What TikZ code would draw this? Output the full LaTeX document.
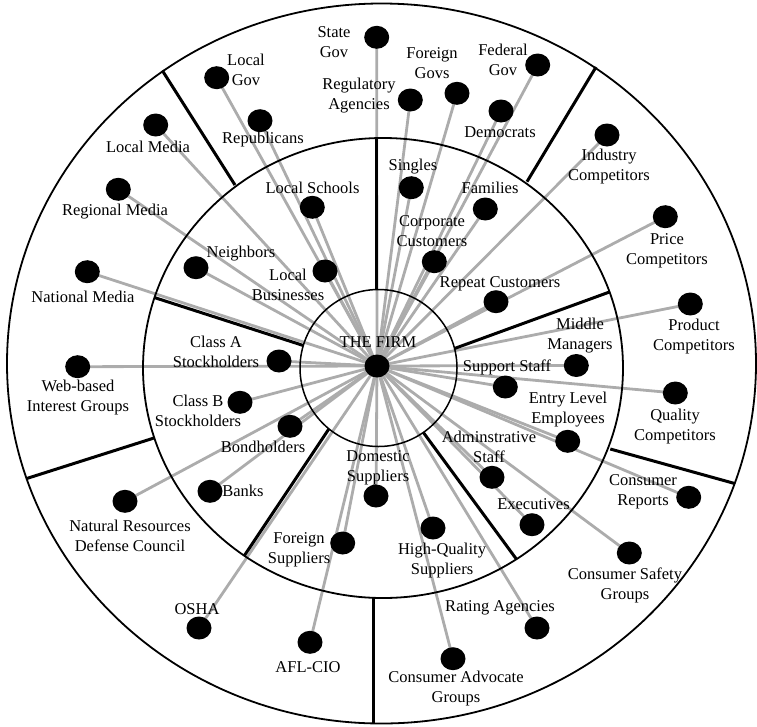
\documentclass[tikz,border=0pt]{standalone}
\usepackage{fontspec}
\setmainfont{Liberation Serif}
\usetikzlibrary{shapes.geometric}
\pgfdeclarelayer{background}
\pgfsetlayers{background,main}
\definecolor{linkgray}{RGB}{172,172,172}
\tikzset{
  dot/.style={ellipse, fill=black, draw=none, minimum width=25pt, minimum height=23pt, inner sep=0pt},
  lbl/.style={align=center, inner sep=0pt, font=\fontsize{16.5}{20}\selectfont},
  link/.style={draw=linkgray, line width=2.8pt},
  ring/.style={draw=black, line width=1.8pt},
  divider/.style={draw=black, line width=3pt},
}
\begin{document}
\begin{tikzpicture}[x=1pt,y=-1pt]
\useasboundingbox (0,0) rectangle (757,726);

% rings
\draw[ring] (381.5,363.5) ellipse [x radius=374.5pt, y radius=360pt];
\draw[ring] (383,368) ellipse [x radius=240pt, y radius=230pt];
\draw[ring, line width=1.5pt] (378.5,368) circle [radius=78.5pt];

% sector dividers, outer ring
\draw[divider] (235,185) -- (162.3,70.5);
\draw[divider] (527,181.7) -- (596,67);
\draw[divider] (610.3,449) -- (735,483.6);
\draw[divider] (373,597.8) -- (373,723.4);
\draw[divider] (154,438) -- (26.4,478.6);
% sector dividers, middle ring
\draw[divider] (376.5,289.5) -- (376.5,138);
\draw[divider] (454.5,348.5) -- (610,291.8);
\draw[divider] (423.3,432.4) -- (516.3,559);
\draw[divider] (328.9,428.9) -- (244.3,555.7);
\draw[divider] (303.3,345.5) -- (154.3,297.5);

% centre
\node[dot] (firm) at (377,366) {};
\node[lbl] (firmL) at (378,342.5) {THE FIRM};

% stakeholders: dots
\node[dot] (stategov) at (376.7,37.3) {};
\node[dot] (localgov) at (216.7,77.7) {};
\node[dot] (localmedia) at (155.7,125) {};
\node[dot] (republicans) at (260,120.7) {};
\node[dot] (regionalmedia) at (118.3,189.3) {};
\node[dot] (localschools) at (312.3,207.3) {};
\node[dot] (neighbors) at (196,267.7) {};
\node[dot] (localbiz) at (325,271) {};
\node[dot] (nationalmedia) at (87.3,271.7) {};
\node[dot] (classa) at (279,361) {};
\node[dot] (webbased) at (77.7,366.7) {};
\node[dot] (foreigngovs) at (457,93.3) {};
\node[dot] (federalgov) at (537.7,65) {};
\node[dot] (regulatory) at (410.3,100) {};
\node[dot] (democrats) at (501,111) {};
\node[dot] (singles) at (411.3,187.7) {};
\node[dot] (families) at (485.3,209) {};
\node[dot] (corporate) at (434.3,261.7) {};
\node[dot] (industry) at (607,135) {};
\node[dot] (price) at (665.3,216.7) {};
\node[dot] (repeat) at (496,301.7) {};
\node[dot] (product) at (690.3,304) {};
\node[dot] (middle) at (576.3,365.5) {};
\node[dot] (support) at (505.3,387) {};
\node[dot] (quality) at (675.3,393) {};
\node[dot] (entry) at (567.7,441.3) {};
\node[dot] (admin) at (492,477.3) {};
\node[dot] (executives) at (532,524.7) {};
\node[dot] (consreports) at (688.7,497.3) {};
\node[dot] (conssafety) at (629.3,553) {};
\node[dot] (hqsup) at (433,528) {};
\node[dot] (rating) at (537,628) {};
\node[dot] (consadv) at (453,658.7) {};
\node[dot] (classb) at (240,402.3) {};
\node[dot] (bond) at (290,426.3) {};
\node[dot] (banks) at (210,491.3) {};
\node[dot] (nrdc) at (125,501.3) {};
\node[dot] (foreignsup) at (342.7,543) {};
\node[dot] (osha) at (199,628) {};
\node[dot] (aflcio) at (310,642.3) {};
\node[dot] (domestic) at (376,496) {};

% stakeholders: labels
\node[lbl] (stategovL) at (334,42.5) {State\\Gov};
\node[lbl] (localgovL) at (246,70) {Local\\Gov};
\node[lbl] (localmediaL) at (148,146.5) {Local Media};
\node[lbl] (republicansL) at (263,140) {Republicans};
\node[lbl] (regionalmediaL) at (115,211.5) {Regional Media};
\node[lbl] (localschoolsL) at (312.5,187.5) {Local Schools};
\node[lbl] (neighborsL) at (241,254) {Neighbors};
\node[lbl] (localbizL) at (288,285) {Local\\Businesses};
\node[lbl] (nationalmediaL) at (83,296.5) {National Media};
\node[lbl] (classaL) at (216,351.5) {Class A\\Stockholders};
\node[lbl] (webbasedL) at (78,398) {Web-based\\Interest Groups};
\node[lbl] (foreigngovsL) at (432,63.5) {Foreign\\Govs};
\node[lbl] (federalgovL) at (503,60) {Federal\\Gov};
\node[lbl] (regulatoryL) at (359,96) {Regulatory\\Agencies};
\node[lbl] (democratsL) at (500,132.5) {Democrats};
\node[lbl] (singlesL) at (413,166.5) {Singles};
\node[lbl] (familiesL) at (490,187.5) {Families};
\node[lbl] (corporateL) at (432,231) {Corporate\\Customers};
\node[lbl] (industryL) at (609,167) {Industry\\Competitors};
\node[lbl] (priceL) at (667,250.5) {Price\\Competitors};
\node[lbl] (repeatL) at (500,283.5) {Repeat Customers};
\node[lbl] (productL) at (694,336.5) {Product\\Competitors};
\node[lbl] (middleL) at (580,336) {Middle\\Managers};
\node[lbl] (supportL) at (507,367) {Support Staff};
\node[lbl] (qualityL) at (675,427) {Quality\\Competitors};
\node[lbl] (entryL) at (568,410) {Entry Level\\Employees};
\node[lbl] (adminL) at (489,447) {Adminstrative\\Staff};
\node[lbl] (executivesL) at (533.5,504.5) {Executives};
\node[lbl] (consreportsL) at (643,492) {Consumer\\Reports};
\node[lbl] (conssafetyL) at (625,585) {Consumer Safety\\Groups};
\node[lbl] (hqsupL) at (442,560.5) {High-Quality\\Suppliers};
\node[lbl] (ratingL) at (500,608) {Rating Agencies};
\node[lbl] (consadvL) at (456,688.5) {Consumer Advocate\\Groups};
\node[lbl] (classbL) at (198,411) {Class B\\Stockholders};
\node[lbl] (bondL) at (263,447) {Bondholders};
\node[lbl] (banksL) at (243,491) {Banks};
\node[lbl] (nrdcL) at (130,536) {Natural Resources\\Defense Council};
\node[lbl] (foreignsupL) at (299,549.5) {Foreign\\Suppliers};
\node[lbl] (oshaL) at (197,609) {OSHA};
\node[lbl] (aflcioL) at (308,667) {AFL-CIO};
\node[lbl] (domesticL) at (378,468) {Domestic\\Suppliers};

% links from the firm to every stakeholder
\begin{pgfonlayer}{background}
\foreach \s in {stategov,localgov,localmedia,republicans,regionalmedia,localschools,
  neighbors,localbiz,nationalmedia,classa,webbased,foreigngovs,federalgov,regulatory,
  democrats,singles,families,corporate,industry,price,repeat,product,middle,support,
  quality,entry,admin,executives,consreports,conssafety,hqsup,rating,consadv,classb,
  bond,banks,nrdc,foreignsup,osha,aflcio,domestic}
  \draw[link] (firm.center) -- (\s.center);
\end{pgfonlayer}
\end{tikzpicture}
\end{document}
